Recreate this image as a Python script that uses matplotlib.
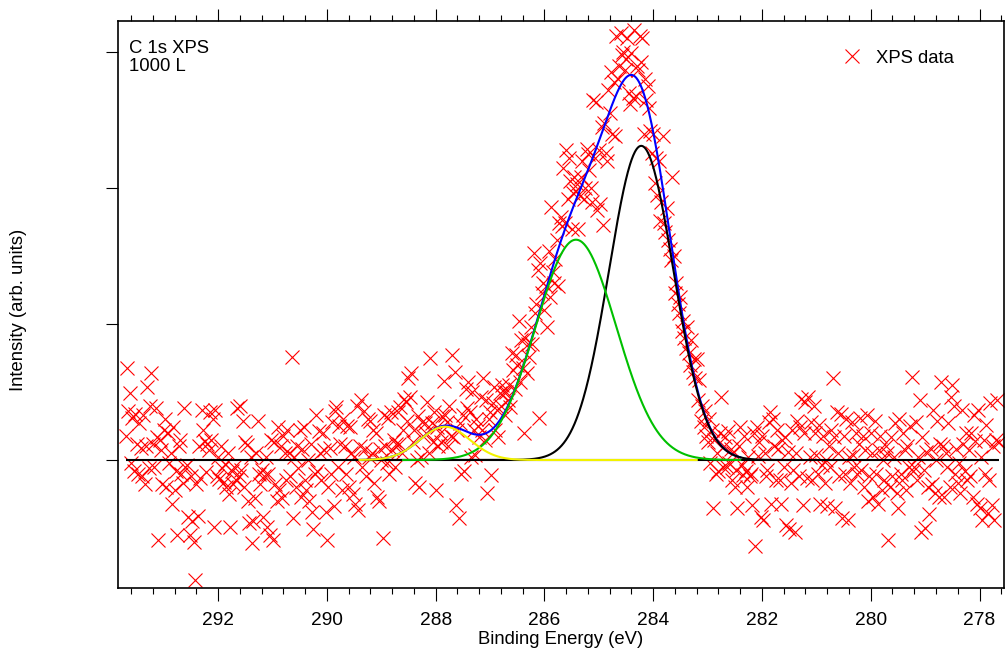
import numpy as np
import matplotlib.pyplot as plt
from matplotlib.ticker import MultipleLocator

plt.rcParams['font.family'] = ['Liberation Sans', 'DejaVu Sans']
plt.rcParams['font.size'] = 13.3

# C 1s spectrum, 0.025 eV steps from 293.70 eV down to 277.65 eV
energy = np.linspace(293.70, 277.65, 643)
intensity = (
    [0.18, 0.68, 0.36, 0.49, -0.02, 0.31, -0.08, 0.34, 0.12, -0.10, 0.27, 0.09, -0.12, 0.33, -0.18, 0.10, 0.54, -0.06, 0.40, 0.64]
    + [0.12, -0.05, 0.38, 0.17, -0.59, 0.15, 0.07, -0.18, 0.22, 0.30, -0.20, 0.20, -0.02, 0.05, -0.32, 0.24, -0.22, -0.08, -0.55, 0.10]
    + [0.15, -0.10, -0.17, 0.38, -0.05, -0.04, -0.42, -0.55, -0.12, -0.45, -0.60, -0.88, -0.18, -0.41, 0.10, -0.13, 0.37, 0.22, 0.14, -0.09]
    + [0.12, 0.07, 0.35, 0.15, 0.30, -0.49, 0.37, -0.12, 0.02, -0.14, 0.10, -0.06, -0.16, -0.03, -0.20, 0.05, -0.25, -0.49, -0.08, -0.18]
    + [-0.05, -0.15, 0.38, -0.12, 0.40, -0.07, 0.29, -0.20, 0.13, 0.11, -0.30, -0.46, 0.02, -0.61, -0.45, -0.28, 0.05, 0.29, -0.10, -0.18]
    + [-0.07, -0.42, -0.12, 0.02, -0.49, -0.10, -0.55, 0.15, -0.59, 0.13, -0.18, -0.30, 0.24, -0.22, 0.10, -0.28, 0.18, 0.05, -0.15, 0.22]
    + [0.05, -0.12, 0.76, -0.43, 0.02, -0.20, 0.10, -0.06, 0.22, -0.27, 0.08, 0.24, -0.15, -0.22, 0.00, -0.30, 0.12, -0.38, -0.51, -0.10]
    + [0.33, -0.08, 0.21, 0.05, -0.15, 0.20, 0.07, -0.38, -0.59, -0.20, 0.09, -0.10, 0.28, -0.34, 0.36, 0.39, -0.05, 0.25, 0.12, -0.22]
    + [0.30, 0.10, -0.10, 0.25, -0.20, 0.24, 0.05, -0.25, 0.02, -0.32, 0.40, -0.37, 0.10, 0.44, -0.05, 0.36, 0.08, -0.12, 0.30, 0.02]
    + [0.29, 0.05, 0.22, -0.17, 0.20, -0.27, -0.30, 0.08, 0.00, -0.57, 0.33, 0.10, -0.02, 0.31, -0.10, 0.35, 0.07, 0.15, -0.05, 0.12]
    + [0.35, 0.12, 0.39, 0.05, 0.22, 0.45, 0.43, 0.29, 0.60, 0.46, 0.64, 0.13, 0.22, -0.17, 0.00, 0.32, -0.20, 0.02, 0.28, 0.18]
    + [0.27, 0.20, 0.43, 0.05, 0.75, 0.27, 0.13, 0.35, -0.22, 0.24, 0.10, 0.20, 0.13, 0.32, 0.58, 0.33, 0.28, 0.10, 0.40, 0.18]
    + [0.77, 0.17, 0.65, -0.33, 0.22, -0.43, 0.27, -0.10, 0.33, -0.08, 0.52, 0.38, 0.57, 0.35, 0.02, 0.50, 0.22, 0.04, 0.30, 0.25]
    + [0.17, 0.46, 0.22, 0.60, 0.15, 0.44, -0.24, 0.30, 0.35, -0.11, 0.42, 0.54, 0.22, 0.37, 0.17, 0.49, 0.40, 0.55, 0.50, 0.33]
    + [0.50, 0.44, 0.55, 0.39, 0.79, 0.66, 0.52, 0.77, 0.70, 1.02, 0.57, 0.88, 0.68, 0.20, 0.90, 0.64, 0.85, 0.76, 0.98, 0.85]
    + [1.52, 1.08, 1.15, 1.40, 0.31, 1.45, 1.23, 1.30, 1.10, 1.28, 0.98, 1.54, 1.20, 1.86, 1.38, 1.30, 1.48, 1.62, 1.28, 1.74]
    + [1.79, 1.72, 2.15, 1.74, 2.28, 1.92, 2.22, 2.05, 1.70, 1.96, 2.08, 1.98, 2.03, 1.70, 1.94, 2.08, 2.20, 1.92, 2.00, 2.29]
    + [2.25, 2.13, 2.00, 1.90, 2.65, 2.22, 2.63, 1.84, 2.28, 1.88, 2.45, 1.73, 2.48, 2.26, 2.20, 2.72, 2.55, 2.85, 2.40, 2.78]
    + [2.38, 3.12, 2.80, 2.90, 3.14, 2.98, 3.00, 2.87, 2.95, 3.10, 2.70, 2.62, 2.99, 2.66, 3.16, 2.68, 2.90, 2.87, 3.12, 2.93]
    + [3.10, 2.40, 2.80, 2.65, 2.75, 2.59, 2.42, 2.26, 2.40, 2.04, 2.22, 1.95, 2.20, 1.76, 1.90, 2.38, 1.74, 1.68, 1.85, 1.62]
    + [1.55, 1.47, 2.08, 1.50, 1.23, 1.30, 1.15, 1.08, 1.20, 0.95, 1.02, 0.90, 0.82, 0.98, 0.79, 0.70, 0.88, 0.65, 0.74, 0.60]
    + [0.74, 0.44, 0.59, 0.29, 0.40, 0.24, 0.36, 0.18, 0.13, 0.30, -0.02, 0.22, -0.35, 0.15, -0.10, 0.05, -0.08, 0.20, 0.46, -0.05]
    + [0.10, 0.17, -0.05, 0.21, -0.02, 0.08, -0.15, 0.05, -0.20, -0.07, -0.35, 0.10, 0.24, -0.04, -0.11, 0.18, -0.08, -0.20, 0.02, -0.12]
    + [-0.10, -0.33, 0.20, -0.63, 0.24, 0.03, 0.13, -0.42, 0.18, -0.44, 0.05, -0.12, -0.07, 0.28, 0.35, -0.32, 0.30, 0.10, -0.15, 0.22]
    + [0.08, -0.15, -0.32, 0.15, -0.05, 0.17, -0.48, 0.06, -0.51, -0.17, 0.22, -0.07, -0.53, 0.05, 0.29, -0.12, 0.24, 0.45, -0.33, 0.20]
    + [0.43, -0.13, 0.46, 0.02, 0.28, -0.15, 0.40, 0.20, 0.04, -0.10, 0.26, -0.32, -0.04, 0.18, -0.17, 0.00, -0.34, 0.10, -0.05, 0.22]
    + [0.60, 0.17, -0.35, 0.35, 0.05, -0.12, 0.34, -0.43, 0.18, -0.10, 0.30, -0.44, 0.02, -0.17, 0.28, 0.04, -0.05, 0.20, -0.10, 0.12]
    + [0.31, -0.07, 0.18, -0.20, 0.07, 0.33, -0.30, -0.12, 0.20, 0.05, -0.27, 0.29, -0.10, -0.32, 0.07, 0.18, -0.22, 0.00, -0.15, 0.10]
    + [0.05, -0.59, -0.20, 0.17, -0.12, 0.02, 0.27, -0.24, -0.35, 0.30, -0.10, -0.15, 0.20, 0.07, -0.22, 0.10, -0.05, 0.25, 0.61, -0.08]
    + [-0.05, 0.28, -0.15, 0.02, 0.44, -0.53, 0.17, -0.07, -0.50, 0.06, -0.20, -0.40, 0.08, -0.18, 0.37, -0.24, 0.00, 0.29, -0.27, 0.12]
    + [0.57, 0.10, -0.27, 0.05, -0.05, 0.27, -0.20, 0.46, 0.55, 0.40, -0.10, 0.08, -0.17, -0.02, -0.24, 0.37, 0.12, -0.08, 0.20, -0.15]
    + [0.07, -0.12, 0.20, -0.27, 0.33, 0.14, -0.32, 0.37, -0.35, 0.02, -0.44, 0.15, -0.10, 0.26, -0.39, -0.15, 0.42, -0.33, 0.10, -0.44]
    + [0.15, 0.44, 0.13]
)

# Gaussian fit components (C-C, C-O, C=O): centre in eV, height, sigma in eV
peak_centres = [284.22, 285.42, 287.83]
peak_heights = [2.31, 1.62, 0.245]
peak_sigmas = [0.59, 0.74, 0.46]
peak_colors = ['black', '#00c000', '#f2f200']
peak_ranges = [(289.4, 281.5), (288.6, 282.4), (289.4, 283.2)]
envelope_range = (289.4, 282.4)


def gauss(e, c, h, s):
    return h * np.exp(-(e - c) ** 2 / (2 * s ** 2))


fig = plt.figure(figsize=(10.06, 6.5), dpi=100)
ax = fig.add_axes([0.1168, 0.0954, 0.8812, 0.8723])

data_line, = ax.plot(energy, intensity, 'x', color='red', ms=9.4, mew=0.8, zorder=1)
ax.hlines(0, energy[0], energy[-1], color='black', lw=1.5, zorder=2)

# envelope under the components
e_env = np.linspace(envelope_range[0], envelope_range[1], 800)
envelope = sum(gauss(e_env, c, h, s) for c, h, s in zip(peak_centres, peak_heights, peak_sigmas))
ax.plot(e_env, envelope, color='blue', lw=1.5, zorder=3)

for i, (c, h, s, col, rng) in enumerate(zip(peak_centres, peak_heights, peak_sigmas, peak_colors, peak_ranges)):
    e_fit = np.linspace(rng[0], rng[1], 800)
    ax.plot(e_fit, gauss(e_fit, c, h, s), color=col, lw=1.5, zorder=4 + i)

ax.set_xlim(293.85, 277.55)
ax.set_ylim(-0.941, 3.228)

ax.xaxis.set_major_locator(MultipleLocator(2))
ax.xaxis.set_minor_locator(MultipleLocator(0.4))
ax.set_yticks([0, 1, 2, 3])
ax.tick_params(axis='x', which='major', direction='out', length=9, width=0.8,
               top=True, bottom=True, labeltop=False, pad=8, labelsize=13.8)
ax.tick_params(axis='x', which='minor', direction='out', length=4.5, width=0.8,
               top=True, bottom=True)
ax.tick_params(axis='y', which='major', direction='out', length=9, width=0.8,
               left=True, right=False, labelleft=False)
for sp in ax.spines.values():
    sp.set_linewidth(1.2)

ax.set_xlabel('Binding Energy (eV)', labelpad=2)
ax.set_ylabel('Intensity (arb. units)')
ax.yaxis.set_label_coords(-0.102, 0.49)

ax.text(0.013, 0.967, 'C 1s XPS\n1000 L', transform=ax.transAxes,
        ha='left', va='top', linespacing=1.1)

ax.legend([data_line], ['XPS data'], loc='upper left', bbox_to_anchor=(0.818, 0.949),
          frameon=False, borderpad=0, borderaxespad=0, handlelength=1.0,
          handletextpad=0.8)

fig.savefig('out.png', dpi=100)
